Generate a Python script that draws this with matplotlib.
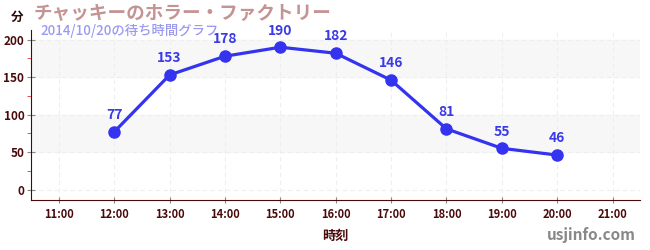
import matplotlib.pyplot as plt
import matplotlib

matplotlib.rcParams['font.family'] = ['Noto Sans CJK JP', 'DejaVu Sans']

hours = [12, 13, 14, 15, 16, 17, 18, 19, 20]
waits = [77, 153, 178, 190, 182, 146, 81, 55, 46]
tick_hours = list(range(11, 22))
tick_labels = ['%d:00' % h for h in tick_hours]

title = 'チャッキーのホラー・ファクトリー'
subtitle = '2014/10/20の待ち時間グラフ'

dark = '#4a0a0a'
fig = plt.figure(figsize=(6.5, 2.5), dpi=100)
ax = fig.add_axes([0.048, 0.2, 0.937, 0.68])

# 背景の帯
for lo, hi in [(50, 100), (150, 200)]:
    ax.axhspan(lo, hi, color='#f7f7f7', zorder=0)

ax.plot(hours, waits, color='#3333f0', linewidth=2.3, marker='o', markersize=8, zorder=3)
for h, w in zip(hours, waits):
    ax.annotate(str(w), (h, w), xytext=(0, 7), textcoords='offset points',
                ha='center', va='bottom', color='#3a3ae6', fontsize=10, fontweight='bold')

ax.set_xlim(10.5, 21.5)
ax.set_ylim(-14, 213)
ax.set_xticks(tick_hours)
ax.set_xticklabels(tick_labels)
ax.set_yticks([0, 50, 100, 150, 200])
ax.set_yticks([25, 75, 125, 175], minor=True)

ax.grid(axis='x', linestyle=(0, (4, 3)), color='#eeeeee', linewidth=0.8)
ax.grid(axis='y', which='major', linestyle=(0, (4, 3)), color='#eeeeee', linewidth=0.8)

for s in ['top', 'right']:
    ax.spines[s].set_visible(False)
ax.spines['left'].set_color(dark)
ax.spines['bottom'].set_color(dark)

ax.tick_params(axis='x', direction='inout', length=5, color='#888888', labelsize=8, labelcolor=dark, pad=3)
ax.tick_params(axis='y', which='major', direction='inout', length=6, color='#888888', labelsize=8.5, labelcolor=dark, pad=2)
ax.tick_params(axis='y', which='minor', direction='out', length=3, color='#ee3333')
for t in ax.get_xticklabels() + ax.get_yticklabels():
    t.set_fontweight('bold')

ax.set_xlabel('時刻', fontsize=9.5, fontweight='bold', color=dark, labelpad=6)

fig.text(0.026, 0.932, '分', fontsize=9, fontweight='bold', color='#2a0a0a', ha='center', va='center')
fig.text(0.052, 0.945, title, fontsize=13.4, fontweight='bold', color='#c49494', va='center')
fig.text(0.062, 0.876, subtitle, fontsize=9.6, fontweight='medium', color='#9a9af0', va='center')
fig.text(0.978, 0.06, 'usjinfo.com', fontsize=11, fontweight='bold', color='#888888', ha='right', va='center')

plt.savefig('out.png')
